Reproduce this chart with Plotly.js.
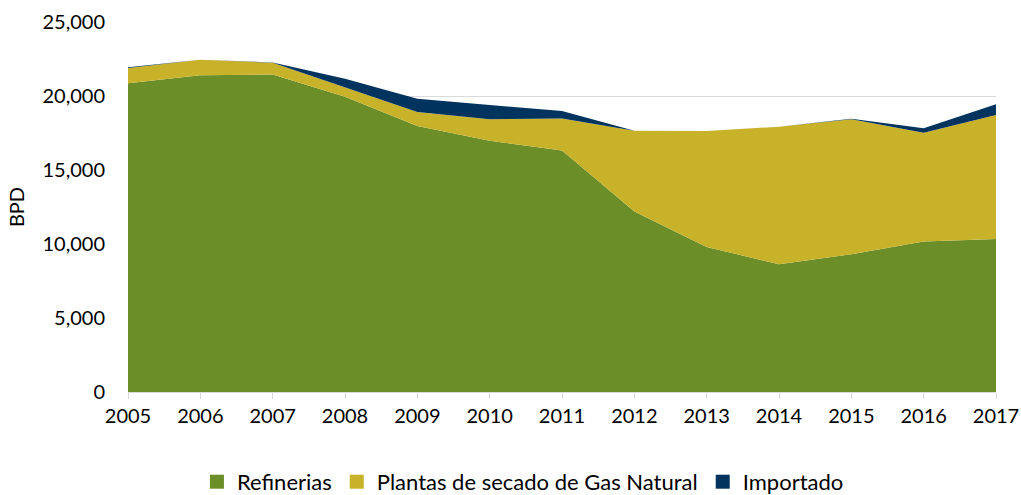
<!DOCTYPE html>
<html>
<head>
<meta charset="utf-8">
<script src="https://cdn.plot.ly/plotly-3.0.1.min.js"></script>
<style>html,body{margin:0;padding:0;background:#fff;}#chart{width:1021px;height:495px;}</style>
</head>
<body>
<div id="chart"></div>
<script>
const years = [2005, 2006, 2007, 2008, 2009, 2010, 2011, 2012, 2013, 2014, 2015, 2016, 2017];
const refinerias = [20860, 21400, 21450, 19950, 17980, 16980, 16320, 12200, 9800, 8630, 9300, 10170, 10330];
const plantas = [1030, 1050, 800, 620, 940, 1450, 2160, 5460, 7840, 9300, 9130, 7350, 8390];
const importado = [50, 0, 20, 600, 900, 960, 500, 0, 0, 0, 30, 300, 720];
const yTicks = [0, 5000, 10000, 15000, 20000, 25000];
const yTickLabels = ['0', '5,000', '10,000', '15,000', '20,000', '25,000'];
const names = ['Refinerias', 'Plantas de secado de Gas Natural', 'Importado'];
const colors = ['#6B8E29', '#C8B22A', '#00335E'];
const series = [refinerias, plantas, importado];

const font = 'Lato, "Open Sans", sans-serif';
const data = [];
series.forEach((y, i) => {
  data.push({
    type: 'scatter', mode: 'lines', name: names[i], x: years, y: y,
    stackgroup: 'one', line: {width: 0, color: colors[i]}, fillcolor: colors[i],
    showlegend: false
  });
});
series.forEach((y, i) => {
  data.push({
    type: 'scatter', mode: 'markers', name: names[i], x: [null], y: [null],
    marker: {symbol: 'square', size: 14, color: colors[i]}, showlegend: true
  });
});
const layout = {
  width: 1021, height: 495,
  margin: {l: 128, r: 25, t: 22, b: 103, autoexpand: false},
  paper_bgcolor: '#fff', plot_bgcolor: '#fff',
  font: {family: font, size: 20, color: '#000'},
  showlegend: true,
  legend: {orientation: 'h', x: 0.455, xanchor: 'center', y: -0.243, yanchor: 'middle',
           font: {family: font, size: 22, color: '#000'}, traceorder: 'normal', itemwidth: 30},
  xaxis: {
    range: [2005, 2017], tickmode: 'array', tickvals: years, ticktext: years.map(String),
    showgrid: false, zeroline: false, showline: true, linecolor: '#d9d9d9', linewidth: 1,
    ticks: 'outside', ticklen: 6, tickcolor: '#d9d9d9', tickfont: {family: font, size: 20},
    automargin: false
  },
  yaxis: {
    range: [0, 25000], tickmode: 'array', tickvals: yTicks, ticktext: yTickLabels,
    showgrid: true, gridcolor: '#d9d9d9', zeroline: false, showline: false,
    ticks: '', ticklabelstandoff: 22, tickfont: {family: font, size: 20},
    title: {text: 'BPD', font: {family: font, size: 20}, standoff: 12},
    automargin: false
  }
};
Plotly.newPlot('chart', data, layout, {displayModeBar: false, staticPlot: true});
</script>
</body>
</html>
